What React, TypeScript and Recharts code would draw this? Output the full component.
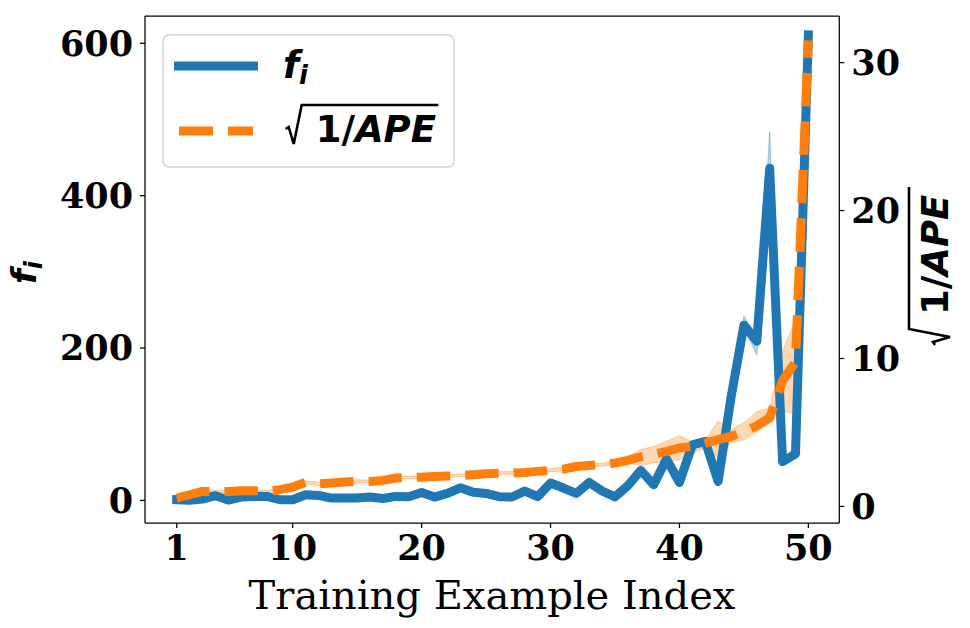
import { Area, ComposedChart, Line, XAxis, YAxis } from 'recharts'

// f_i per training example (left axis)
const fi = [0.9, 0.3, 1.8, 6.2, 0.5, 4.4, 5.3, 5.3, 0.9, 0.9, 7.5, 6.6, 3.1, 3.1, 3.1, 4.4, 2.6, 5.3, 4.9, 10.5, 4.4, 9.2, 16.6, 10.7, 9.2, 4.9, 4.5, 12.3, 5.1, 22.8, 16.3, 9.2, 23.6, 12.4, 4.6, 19.5, 39.4, 20.6, 54.3, 23.6, 73, 77.4, 25, 135, 230, 209, 436, 51, 61, 611]
const fiLow = [0, 0, 0.5, 4.5, 0, 3, 4, 4, 0, 0, 6, 5, 2, 2, 2, 3, 1.5, 4, 3.5, 9, 3, 8, 15, 9, 8, 3.5, 3, 11, 4, 21, 15, 8, 22, 11, 3, 18, 37, 19, 52, 22, 71, 75, 23, 132, 226, 191, 400, 49, 59, 605]
const fiHigh = [2, 1.5, 3, 8, 2, 6, 6.5, 6.5, 2, 2, 9, 8, 4.5, 4.5, 4.5, 6, 4, 7, 6.5, 12, 6, 10.5, 18, 12.5, 10.5, 6.5, 6, 14, 6.5, 24.5, 18, 10.5, 25, 14, 6, 21, 42, 22, 57, 25, 76, 80, 27, 140, 242, 214, 484, 53, 63, 614]

// sqrt(1/APE) (right axis)
const ape = [0.57, 0.79, 1.01, 1.01, 1.01, 1.06, 1.06, 1.01, 1.13, 1.31, 1.62, 1.53, 1.58, 1.65, 1.69, 1.69, 1.76, 1.92, 1.95, 1.98, 2.03, 2.05, 2.08, 2.14, 2.21, 2.25, 2.27, 2.3, 2.37, 2.43, 2.52, 2.7, 2.77, 2.82, 2.93, 3.11, 3.36, 3.54, 3.72, 3.95, 4.05, 4.28, 4.51, 4.73, 5.07, 5.45, 6.0, 8.5, 9.75, 31.5]
const apeLow = [0.5, 0.72, 0.93, 0.94, 0.95, 1.0, 1.0, 0.95, 1.05, 1.22, 1.52, 1.42, 1.45, 1.5, 1.58, 1.6, 1.67, 1.83, 1.87, 1.9, 1.95, 1.97, 2.0, 2.06, 2.13, 2.17, 2.18, 2.21, 2.28, 2.33, 2.42, 2.6, 2.67, 2.72, 2.82, 2.95, 2.75, 2.95, 3.05, 3.15, 3.6, 3.95, 3.3, 4.3, 4.5, 5.05, 5.6, 6.4, 6.3, 31.3]
const apeHigh = [0.65, 0.86, 1.09, 1.1, 1.08, 1.13, 1.14, 1.08, 1.22, 1.4, 1.72, 1.65, 1.72, 1.82, 1.8, 1.78, 1.86, 2.0, 2.04, 2.07, 2.11, 2.14, 2.17, 2.22, 2.3, 2.34, 2.37, 2.4, 2.47, 2.55, 2.65, 2.8, 2.88, 2.92, 3.05, 3.4, 3.85, 4.05, 4.4, 4.78, 4.35, 4.5, 5.75, 5.2, 5.65, 6.4, 6.65, 10.5, 12.6, 31.7]

const xTicks = [1, 10, 20, 30, 40, 50]
const leftTicks = [0, 200, 400, 600]
const rightTicks = [0, 10, 20, 30]

const BLUE = '#1f77b4'
const ORANGE = '#ff7f0e'
const tickFont = { fontSize: 35, fontFamily: 'DejaVu Serif', fontWeight: 700, fill: '#000' }
const mathFont = 'DejaVu Sans'

const rows = fi.map((v, i) => ({
  x: i + 1,
  fi: v,
  fiBand: [fiLow[i], fiHigh[i]],
  ape: ape[i],
  apeBand: [apeLow[i], apeHigh[i]],
}))

function Overlay() {
  return (
    <svg width={970} height={628} style={{ position: 'absolute', left: 0, top: 0, pointerEvents: 'none' }}>
      {/* top spine */}
      <line x1={145} x2={839.3} y1={16} y2={16} stroke="#000" strokeWidth={1.25} />

      {/* legend */}
      <rect x={163} y={35} width={291} height={132} rx={6} fill="#fff" fillOpacity={0.85} stroke="#d0d0d0" strokeWidth={1.3} />
      <line x1={174} x2={258} y1={66} y2={66} stroke={BLUE} strokeWidth={9} />
      <text x={283} y={78} fontFamily={mathFont} fontWeight={700} fontStyle="italic" fontSize={37}>
        f<tspan fontSize={26} dy={6}>i</tspan>
      </text>
      <line x1={179} x2={213} y1={131} y2={131} stroke={ORANGE} strokeWidth={9} />
      <line x1={228} x2={253} y1={131} y2={131} stroke={ORANGE} strokeWidth={9} />
      <g transform="translate(285.7, 142)">
        <path d="M0,-13 L3,-15 L8,2 L16,-37 L152.6,-37" fill="none" stroke="#000" strokeWidth={2.6} strokeLinejoin="miter" />
        <text x={30} y={0} fontFamily={mathFont} fontWeight={700} fontSize={37}>
          1/<tspan fontStyle="italic">APE</tspan>
        </text>
      </g>

      {/* left axis label */}
      <text transform="translate(36, 284) rotate(-90)" fontFamily={mathFont} fontWeight={700} fontStyle="italic" fontSize={34}>
        f<tspan fontSize={24} dy={6}>i</tspan>
      </text>

      {/* right axis label */}
      <g transform="translate(948, 345) rotate(-90)">
        <path d="M0,-13 L3,-15 L8,2 L16,-39 L158,-39" fill="none" stroke="#000" strokeWidth={2.6} />
        <text x={30} y={0} fontFamily={mathFont} fontWeight={700} fontSize={37}>
          1/<tspan fontStyle="italic">APE</tspan>
        </text>
      </g>

      {/* x axis label */}
      <text x={492} y={609} textAnchor="middle" fontFamily="DejaVu Serif" fontSize={40}>
        Training Example Index
      </text>
    </svg>
  )
}

export default function App() {
  return (
    <div style={{ position: 'absolute', left: 0, top: 0, width: 970, height: 628, background: '#fff' }}>
      <ComposedChart width={970} height={628} data={rows} margin={{ top: 16, right: 0, bottom: 0, left: 0 }}>
        <XAxis
          dataKey="x"
          type="number"
          domain={[-1.46, 52.4]}
          ticks={xTicks}
          allowDataOverflow
          height={105}
          tickSize={5}
          tickMargin={7}
          tick={tickFont}
          stroke="#000"
          strokeWidth={1.25}
        />
        <YAxis
          yAxisId="left"
          domain={[-29.6, 635.8]}
          ticks={leftTicks}
          allowDataOverflow
          width={145}
          tickSize={5}
          tickMargin={7}
          tick={tickFont}
          stroke="#000"
          strokeWidth={1.25}
        />
        <YAxis
          yAxisId="right"
          orientation="right"
          domain={[-1.12, 33.15]}
          ticks={rightTicks}
          allowDataOverflow
          width={130.7}
          tickSize={5}
          tickMargin={7}
          tick={tickFont}
          stroke="#000"
          strokeWidth={1.25}
        />
        <Area
          yAxisId="left"
          dataKey="fiBand"
          type="linear"
          fill={BLUE}
          fillOpacity={0.3}
          stroke={BLUE}
          strokeOpacity={0.35}
          strokeWidth={1}
          isAnimationActive={false}
          activeDot={false}
        />
        <Line
          yAxisId="left"
          dataKey="fi"
          type="linear"
          stroke={BLUE}
          strokeWidth={9}
          strokeLinejoin="round"
          strokeLinecap="square"
          dot={false}
          activeDot={false}
          isAnimationActive={false}
        />
        <Area
          yAxisId="right"
          dataKey="apeBand"
          type="linear"
          fill={ORANGE}
          fillOpacity={0.3}
          stroke={ORANGE}
          strokeOpacity={0.35}
          strokeWidth={1}
          isAnimationActive={false}
          activeDot={false}
        />
        <Line
          yAxisId="right"
          dataKey="ape"
          type="linear"
          stroke={ORANGE}
          strokeWidth={9}
          strokeDasharray="33.5 15"
          strokeLinejoin="round"
          strokeLinecap="butt"
          dot={false}
          activeDot={false}
          isAnimationActive={false}
        />
      </ComposedChart>
      <Overlay />
    </div>
  )
}
